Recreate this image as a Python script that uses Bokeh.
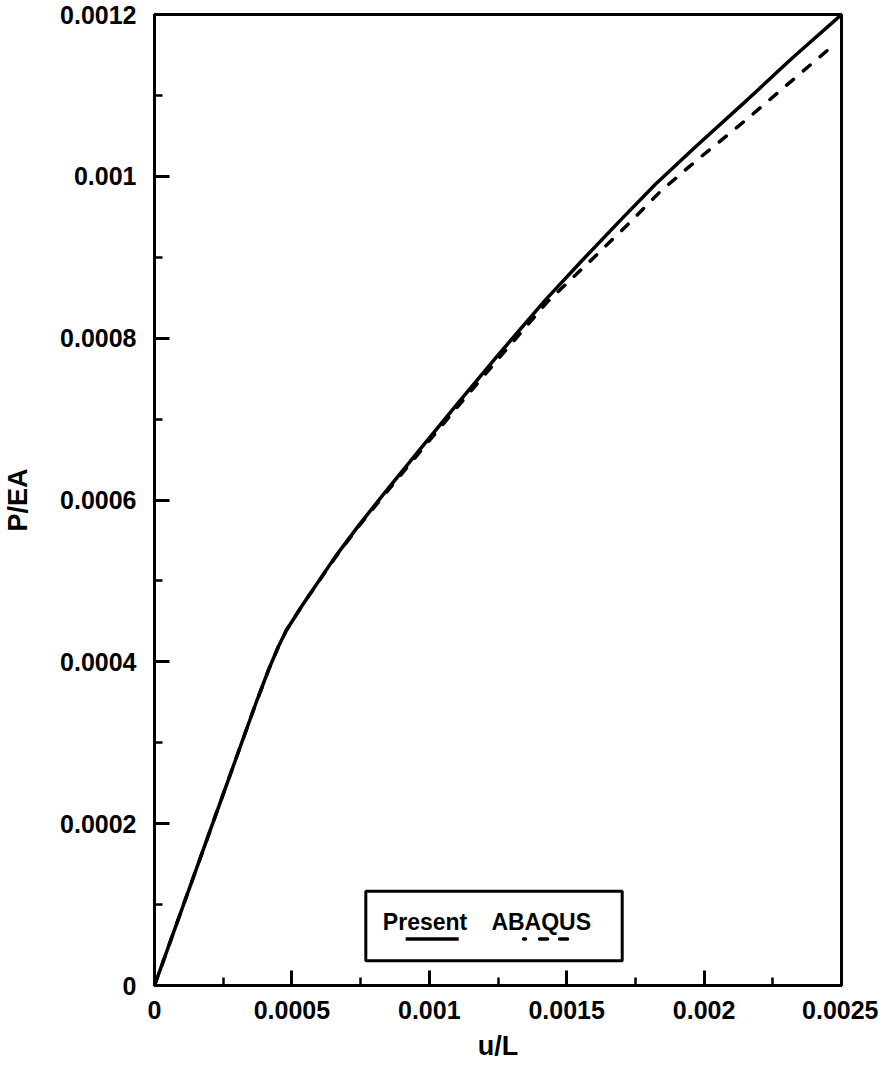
from bokeh.plotting import figure
from bokeh.models import Range1d, FixedTicker, CustomJSTickFormatter, BoxAnnotation, Label
from bokeh.embed import file_html
from bokeh.resources import INLINE

# ---------------- data ----------------
u_present = [0.0, 0.000185, 0.000295, 0.000367, 0.000415, 0.000451, 0.000480, 0.000538,
             0.000658, 0.000742, 0.000833, 0.000960, 0.001105, 0.001250, 0.001422,
             0.001556, 0.001702, 0.001822, 0.001967, 0.002149, 0.002320, 0.0025]
p_present = [0.0, 0.000175, 0.000279, 0.000347, 0.000390, 0.000419, 0.000439, 0.000470,
             0.000530, 0.000568, 0.000607, 0.000660, 0.000720, 0.000779, 0.000847,
             0.000896, 0.000948, 0.000990, 0.001036, 0.001092, 0.001146, 0.001200]

u_abaqus = [0.0, 0.000185, 0.000295, 0.000367, 0.000415, 0.000451, 0.000480, 0.000538,
            0.000658, 0.000742, 0.000833, 0.000960, 0.001105, 0.001250, 0.001430,
            0.001600, 0.001730, 0.001840, 0.001970, 0.002150, 0.002460]
p_abaqus = [0.0, 0.000175, 0.000279, 0.000347, 0.000390, 0.000419, 0.000439, 0.000470,
            0.000529, 0.000567, 0.000605, 0.000657, 0.000716, 0.000774, 0.000845,
            0.000900, 0.000943, 0.000981, 0.001019, 0.001069, 0.001159]

series_names = ["Present", "ABAQUS"]

x_ticks = [0.0, 0.0005, 0.001, 0.0015, 0.002, 0.0025]
x_tick_labels = ["0", "0.0005", "0.001", "0.0015", "0.002", "0.0025"]
x_minor_ticks = [0.00025, 0.00075, 0.00125, 0.00175, 0.00225]

y_ticks = [0.0, 0.0002, 0.0004, 0.0006, 0.0008, 0.001, 0.0012]
y_tick_labels = ["0", "0.0002", "0.0004", "0.0006", "0.0008", "0.001", "0.0012"]
y_minor_ticks = [0.0001, 0.0003, 0.0005, 0.0007, 0.0009, 0.0011]

x_label = "u/L"
y_label = "P/EA"

# ---------------- figure ----------------
FONT = "Liberation Sans"
X_MAX = 0.0025
Y_MAX = 0.0012

p = figure(width=878, height=1069,
           x_range=Range1d(0, X_MAX), y_range=Range1d(0, Y_MAX),
           output_backend="svg", toolbar_location=None,
           min_border_left=152, min_border_right=37,
           min_border_top=14, min_border_bottom=84)

p.background_fill_color = "white"
p.border_fill_color = "white"
p.xgrid.visible = False
p.ygrid.visible = False
p.outline_line_color = "black"
p.outline_line_width = 3
p.outline_line_alpha = 1.0

fmt_code = """
let best = 0;
for (let i = 0; i < tvals.length; i++) {
  if (Math.abs(tvals[i] - tick) < Math.abs(tvals[best] - tick)) best = i;
}
return tlabels[best];
"""

p.xaxis.ticker = FixedTicker(ticks=x_ticks, minor_ticks=x_minor_ticks)
p.xaxis.formatter = CustomJSTickFormatter(args=dict(tvals=x_ticks, tlabels=x_tick_labels), code=fmt_code)
p.yaxis.ticker = FixedTicker(ticks=y_ticks, minor_ticks=y_minor_ticks)
p.yaxis.formatter = CustomJSTickFormatter(args=dict(tvals=y_ticks, tlabels=y_tick_labels), code=fmt_code)

p.xaxis.axis_label = x_label
p.yaxis.axis_label = y_label

for ax in (p.xaxis, p.yaxis):
    ax.axis_line_color = "black"
    ax.axis_line_width = 3
    ax.major_tick_in = 15
    ax.major_tick_out = 0
    ax.minor_tick_in = 8
    ax.minor_tick_out = 0
    ax.major_tick_line_color = "black"
    ax.major_tick_line_width = 3
    ax.minor_tick_line_color = "black"
    ax.minor_tick_line_width = 2.5
    ax.major_label_text_font = FONT
    ax.major_label_text_font_size = "25px"
    ax.major_label_text_font_style = "bold"
    ax.major_label_text_color = "black"
    ax.axis_label_text_font = FONT
    ax.axis_label_text_font_size = "27px"
    ax.axis_label_text_font_style = "bold"
    ax.axis_label_text_color = "black"

p.xaxis.major_label_standoff = 15
p.xaxis.axis_label_standoff = 9
p.yaxis.major_label_standoff = 18
p.yaxis.axis_label_standoff = 24

# ---------------- curves ----------------
p.line(u_abaqus, p_abaqus, line_color="black", line_width=3.5,
       line_dash="9 13", line_cap="round", line_join="round")
p.line(u_present, p_present, line_color="black", line_width=3.5, line_join="round")

# ---------------- legend (drawn by hand: labels above line samples) ----------------
leg_left, leg_right = 0.000769, 0.001702
leg_bottom, leg_top = 0.0000306, 0.0001164
p.add_layout(BoxAnnotation(left=leg_left, right=leg_right, bottom=leg_bottom, top=leg_top,
                           fill_color=None, fill_alpha=0, line_color="black",
                           line_width=3, line_alpha=1.0))

text_base = 0.0000784
p.add_layout(Label(x=0.000831, y=text_base, text=series_names[0], text_font=FONT,
                   text_font_size="23px", text_font_style="bold", text_color="black",
                   text_align="left", text_baseline="alphabetic"))
p.add_layout(Label(x=0.001226, y=text_base, text=series_names[1], text_font=FONT,
                   text_font_size="23px", text_font_style="bold", text_color="black",
                   text_align="left", text_baseline="alphabetic"))

sample_y = 0.0000576
p.line([0.000914, 0.001107], [sample_y, sample_y], line_color="black", line_width=3.5)
p.line([0.001343, 0.001524], [sample_y, sample_y], line_color="black", line_width=3.5,
       line_dash="2 14 8 12 8 60", line_cap="round")

open("out.html", "w").write(file_html(p, INLINE))
